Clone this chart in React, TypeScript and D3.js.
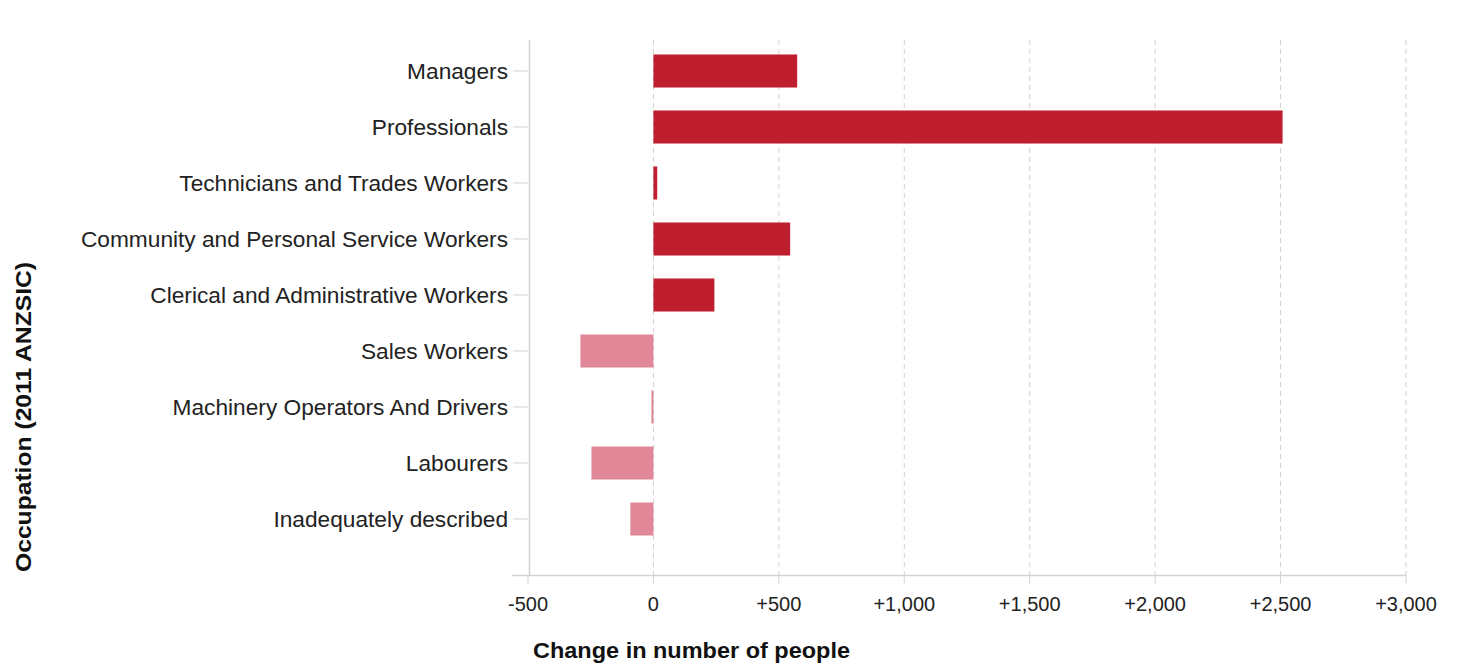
import React from "react";
import * as d3 from "d3";

const categories = [
  "Managers",
  "Professionals",
  "Technicians and Trades Workers",
  "Community and Personal Service Workers",
  "Clerical and Administrative Workers",
  "Sales Workers",
  "Machinery Operators And Drivers",
  "Labourers",
  "Inadequately described",
];
const values = [573, 2508, 15, 545, 243, -291, -8, -247, -92];
const xTicks = [-500, 0, 500, 1000, 1500, 2000, 2500, 3000];

const W = 1457;
const H = 663;

export default function App() {
  const x = d3.scaleLinear().domain([-500, 3000]).range([528, 1406]);
  const y = d3
    .scaleBand<string>()
    .domain(categories)
    .range([43, 547])
    .paddingInner(0.41)
    .paddingOuter(0.205);
  const top = 40;
  const bottom = 575.5;
  const fmt = (v: number) => (v > 0 ? "+" : v < 0 ? "-" : "") + d3.format(",")(Math.abs(v));
  const font = "'Liberation Sans', Arial, sans-serif";
  return (
    <svg
      width={W}
      height={H}
      style={{ position: "absolute", left: 0, top: 0, background: "#fff" }}
      fontFamily={font}
    >
      {xTicks.slice(1).map((t) => (
        <line
          key={"g" + t}
          x1={x(t)}
          x2={x(t)}
          y1={top}
          y2={bottom}
          stroke="#d0d0d0"
          strokeDasharray="5,4"
          strokeWidth={1}
        />
      ))}
      {categories.map((c, i) => {
        const v = values[i];
        const w = Math.max(1.5, Math.abs(x(v) - x(0)));
        return (
          <rect
            key={c}
            x={v < 0 ? x(0) - w : x(0)}
            y={y(c)}
            width={w}
            height={y.bandwidth()}
            fill={v >= 0 ? "#BE1E2D" : "#E08898"}
          />
        );
      })}
      <line x1={529.5} x2={529.5} y1={top} y2={bottom} stroke="#d3d3d3" strokeWidth={1.5} />
      <line x1={512} x2={1406} y1={bottom} y2={bottom} stroke="#d3d3d3" strokeWidth={1.5} />
      {xTicks.map((t) => (
        <g key={"t" + t}>
          <line x1={x(t)} x2={x(t)} y1={bottom} y2={bottom + 8} stroke="#d3d3d3" strokeWidth={1} />
          <text x={x(t)} y={611} textAnchor="middle" fontSize={20} fill="#222">
            {fmt(t)}
          </text>
        </g>
      ))}
      {categories.map((c) => {
        const cy = (y(c) as number) + y.bandwidth() / 2;
        return (
          <g key={"l" + c}>
            <line x1={513} x2={528} y1={cy} y2={cy} stroke="#d3d3d3" strokeWidth={1} />
            <text x={508} y={cy} dy="0.35em" textAnchor="end" fontSize={22.7} fill="#222">
              {c}
            </text>
          </g>
        );
      })}
      <text x={533} y={658} fontSize={22} fontWeight="bold" fill="#111" textLength={317} lengthAdjust="spacingAndGlyphs">
        Change in number of people
      </text>
      <text
        transform="translate(31,417) rotate(-90)"
        textAnchor="middle"
        fontSize={22}
        fontWeight="bold"
        fill="#111"
        textLength={310}
        lengthAdjust="spacingAndGlyphs"
      >
        Occupation (2011 ANZSIC)
      </text>
    </svg>
  );
}
